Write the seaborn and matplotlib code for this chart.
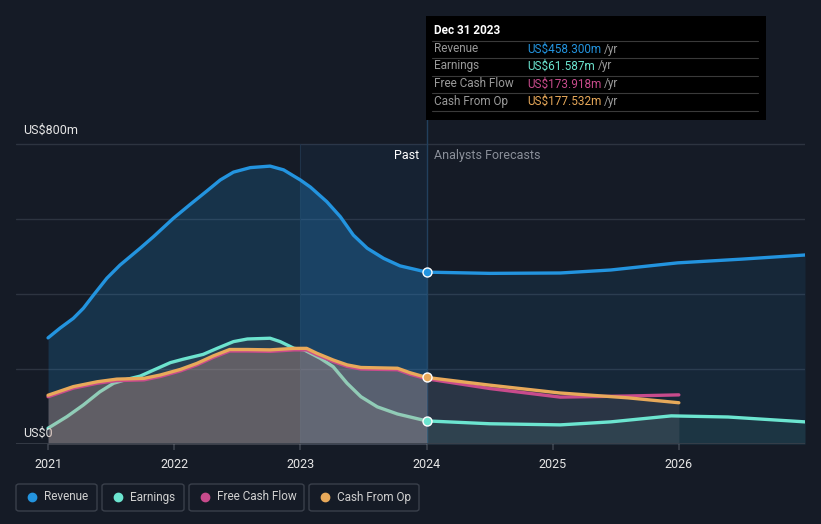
import numpy as np
import pandas as pd
import matplotlib
matplotlib.use("Agg")
import matplotlib.pyplot as plt
import seaborn as sns
from matplotlib.patches import FancyBboxPatch, Rectangle
from matplotlib.lines import Line2D

# values (US$m), x in fractional years
rev_x = [2021.0, 2021.095, 2021.2, 2021.28, 2021.36, 2021.466, 2021.57, 2021.73, 2021.836, 2021.994,
         2022.127, 2022.26, 2022.365, 2022.47, 2022.603, 2022.76, 2022.867, 2023.0, 2023.08, 2023.21,
         2023.317, 2023.42, 2023.53, 2023.66, 2023.79, 2023.93, 2024.0,
         2024.5, 2025.06, 2025.46, 2025.99, 2026.5, 2027.0]
rev_y = [283, 309, 335, 362, 397, 442, 477, 522, 553, 602,
         639, 675, 704, 725, 737, 741, 731, 704, 685, 646,
         606, 557, 522, 495, 475, 464, 458.3,
         455, 456, 464, 483, 493, 504]

earn_x = [2021.0, 2021.15, 2021.28, 2021.41, 2021.52, 2021.62, 2021.73, 2021.836, 2021.97, 2022.07,
          2022.23, 2022.34, 2022.47, 2022.58, 2022.76, 2022.84, 2022.95, 2023.03, 2023.16, 2023.26,
          2023.37, 2023.48, 2023.61, 2023.77, 2024.0,
          2024.5, 2025.06, 2025.46, 2025.94, 2026.39, 2027.0]
earn_y = [42, 73, 104, 139, 162, 172, 181, 197, 217, 226,
          239, 255, 273, 280, 282, 273, 255, 251, 228, 206,
          162, 126, 99, 80, 61.587,
          54, 51, 59, 75, 72, 59]

cfo_x = [2021.0, 2021.2, 2021.39, 2021.545, 2021.76, 2021.89, 2022.05, 2022.18, 2022.31, 2022.44,
         2022.58, 2022.76, 2022.95, 2023.05, 2023.13, 2023.26, 2023.37, 2023.48, 2023.77, 2023.87,
         2024.0, 2024.5, 2025.06, 2025.6, 2026.0]
cfo_y = [130, 153, 166, 173, 175, 184, 199, 215, 235, 252,
         252, 251, 255, 255, 242, 224, 211, 204, 202, 190,
         177.532, 157, 136, 123, 110]

fcf_x = cfo_x
fcf_y = [126, 149, 162, 169, 171, 180, 195, 211, 231, 248,
         248, 247, 251, 251, 238, 220, 207, 200, 198, 186,
         173.918, 148, 125, 128, 131]

year_ticks = [2021, 2022, 2023, 2024, 2025, 2026]
y_labels = ["US$0", "US$800m"]

series_names = ["Revenue", "Earnings", "Free Cash Flow", "Cash From Op"]
series_colors = ["#2394df", "#6ce5d0", "#c84b8c", "#e8a95a"]
tooltip_vals = ["US$458.300m", "US$61.587m", "US$173.918m", "US$177.532m"]

BG = "#151b26"

sns.set_theme(style="dark")
plt.rcParams["font.family"] = ["Roboto", "DejaVu Sans"]

fig = plt.figure(figsize=(8.21, 5.24), dpi=100, facecolor=BG)
W, H = 821, 524
ax = fig.add_axes([16 / W, 80 / H, 789 / W, 428 / H])
ax.set_facecolor(BG)
ax.set_xlim(2020.746, 2027.0)
ax.set_ylim(0, 1141.3)
for s in ax.spines.values():
    s.set_visible(False)
ax.grid(False)

# gridlines
for v in [200, 400, 600, 800]:
    ax.axhline(v, color="#2d3440", lw=1, zorder=1)
ax.axhline(0, color="#3a404b", lw=1.2, zorder=6)

# past highlight band
ax.fill_between([2023.0, 2024.0], 0, 800, color="#1f5080", alpha=0.14, lw=0, zorder=1)
ax.axvline(2023.0, ymax=800 / 1141.3, color="#1f3349", lw=0.8, zorder=1)
ax.axvline(2024.0, color="#22405d", lw=1, zorder=2)

rev = pd.DataFrame({"x": rev_x, "y": rev_y})
earn = pd.DataFrame({"x": earn_x, "y": earn_y})
cfo = pd.DataFrame({"x": cfo_x, "y": cfo_y})
fcf = pd.DataFrame({"x": fcf_x, "y": fcf_y})

def split(df):
    return df[df.x <= 2024.0], df[df.x >= 2024.0]

rp, rf = split(rev)
cp, cf = split(cfo)
ep, ef = split(earn)

# fills
ax.fill_between(rp.x, 0, rp.y, color="#2394df", alpha=0.2, lw=0, zorder=2)
band = rp[rp.x >= 2023.0]
ax.fill_between(band.x, 0, band.y, color="#2a7cc0", alpha=0.15, lw=0, zorder=2)
ax.fill_between(rf.x, 0, rf.y, color="#2394df", alpha=0.1, lw=0, zorder=2)

# past earnings line sits under the cash fill, so it looks faded there
sns.lineplot(data=ep, x="x", y="y", ax=ax, color=series_colors[1], lw=2.4, zorder=3)
ax.fill_between(ep.x, 0, ep.y, color="#9a9a9a", alpha=0.12, lw=0, zorder=3)
ax.fill_between(cp.x, 0, cp.y, color="#d9a08a", alpha=0.33, lw=0, zorder=4)
ax.fill_between(cf.x, 0, cf.y, color="#a08a90", alpha=0.15, lw=0, zorder=4)
ax.fill_between(ef.x, 0, ef.y, color="#6ce5d0", alpha=0.08, lw=0, zorder=4)

# lines
kw = dict(lw=2.4, zorder=5, solid_capstyle="round", solid_joinstyle="round")
sns.lineplot(data=rev, x="x", y="y", ax=ax, color=series_colors[0], **kw)
sns.lineplot(data=ef, x="x", y="y", ax=ax, color=series_colors[1], **kw)
sns.lineplot(data=fcf, x="x", y="y", ax=ax, color=series_colors[2], **kw)
sns.lineplot(data=cfo, x="x", y="y", ax=ax, color=series_colors[3], **kw)

# markers at the cursor
for df, c in [(rev, series_colors[0]), (earn, series_colors[1]), (cfo, series_colors[3])]:
    yv = df.loc[df.x == 2024.0, "y"].iloc[0]
    ax.scatter([2024.0], [yv], s=42, color=c, edgecolor="white", linewidth=1, zorder=7)

ax.set_xticks(year_ticks)
ax.set_xticklabels([str(t) for t in year_ticks], color="#e6e6e6", fontsize=9)
ax.set_yticks([])
ax.set_xlabel("")
ax.set_ylabel("")
ax.tick_params(axis="x", length=4, color="#3a404b", pad=6, bottom=True)

ax.text(2020.806, 800 + 20, y_labels[1], color="#e6e6e6", fontsize=9, va="bottom", ha="left")
ax.text(2020.806, 12, y_labels[0], color="#e6e6e6", fontsize=9, va="bottom", ha="left")
ax.text(2023.94, 770, "Past", color="#ffffff", fontsize=9, ha="right", va="center")
ax.text(2024.06, 770, "Analysts Forecasts", color="#8a8f99", fontsize=9, ha="left", va="center")

# tooltip
def fx(px):
    return px / W

def fy(py):
    return 1 - py / H

fig.patches.append(Rectangle((fx(426), fy(120)), 340 / W, 104 / H, transform=fig.transFigure,
                             facecolor="#000000", edgecolor="none", zorder=10))
fig.text(fx(434), fy(31), "Dec 31 2023", color="white", fontsize=8.5, fontweight="bold",
         va="center", zorder=11)
seps = [41, 58, 76, 93, 111]
for sy in seps:
    fig.lines.append(Line2D([fx(432), fx(758)], [fy(sy), fy(sy)], transform=fig.transFigure,
                            color="#3a3a3a", lw=0.8, zorder=11))
rows_y = [49, 66, 84, 101]
for name, val, col, ry in zip(series_names, tooltip_vals, series_colors, rows_y):
    fig.text(fx(434), fy(ry), name, color="#9a9a9a", fontsize=8.5, va="center", zorder=11)
    t = fig.text(fx(527), fy(ry), val, color=col, fontsize=8.5, va="center", zorder=11)
    fig.canvas.draw()
    bb = t.get_window_extent()
    fig.text(bb.x1 / W + 3 / W, fy(ry), "/yr", color="#9a9a9a", fontsize=8.5, va="center", zorder=11)

# legend boxes
boxes = [(16, 97), (102, 184), (189, 304), (309, 419)]
for (x0, x1), name, col in zip(boxes, series_names, series_colors):
    fig.patches.append(FancyBboxPatch((fx(x0), fy(511)), (x1 - x0) / W, 27 / H,
                                      boxstyle="round,pad=0,rounding_size=0.004",
                                      transform=fig.transFigure, facecolor=BG,
                                      edgecolor="#3a404b", lw=1))
    fig.lines.append(Line2D([fx(x0 + 16)], [fy(497)], transform=fig.transFigure, marker="o",
                            markersize=6, color=col, lw=0))
    fig.text(fx(x0 + 28), fy(497), name, color="#d0d0d0", fontsize=8.5, va="center")

fig.savefig("out.png", dpi=100, facecolor=BG)
